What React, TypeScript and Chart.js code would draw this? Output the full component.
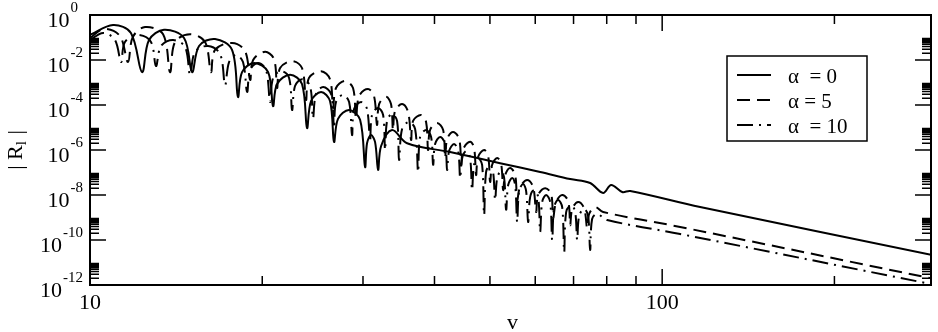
import React, { useEffect, useRef } from "react";
import { Chart, registerables } from "chart.js";

Chart.register(...registerables);

// ---------- data ----------
// alpha = 0 (solid)
const alpha0V = [10.0, 10.97, 11.79, 12.33, 12.68, 13.47, 14.6, 15.08, 15.51, 16.54, 17.71, 18.14, 18.44, 19.36, 20.48, 20.89, 21.23, 22.37, 23.47, 23.95, 24.34, 25.34, 26.27, 26.7, 27.13, 28.37, 29.65, 30.25, 30.49, 30.98, 31.49, 31.88, 32.27, 33.72, 35.83, 42.59, 52.1, 61.2, 69.06, 74.83, 78.85, 81.44, 85.13, 87.93, 116.5, 295];
const alpha0R = [0.13, 0.36, 0.16, 2.9e-3, 0.077, 0.22, 0.095, 2.9e-3, 0.042, 0.086, 0.028, 2.3e-4, 2.9e-3, 7.4e-3, 2.9e-3, 9.0e-5, 8.6e-4, 2.2e-3, 8.6e-4, 9.5e-6, 1.5e-4, 3.8e-4, 1.5e-4, 2.3e-6, 2.4e-5, 6.0e-5, 2.2e-5, 1.75e-7, 2.0e-6, 4.6e-6, 2.3e-6, 1.3e-7, 1.5e-6, 7.7e-6, 2.0e-6, 8.1e-7, 2.6e-7, 1.05e-7, 5.1e-8, 3.4e-8, 1.23e-8, 2.8e-8, 1.36e-8, 1.5e-8, 2.9e-9, 2.2e-11];

// alpha = 5 (dashed)
const alpha5V = [10.0, 10.58, 11.28, 11.65, 11.88, 12.48, 13.42, 13.8, 14.08, 14.96, 15.89, 16.27, 16.54, 17.71, 18.66, 19.05, 19.28, 20.23, 20.97, 21.23, 21.49, 22.55, 23.47, 23.85, 24.14, 25.34, 26.27, 26.59, 26.91, 27.91, 28.82, 29.17, 29.53, 30.61, 31.36, 31.74, 32.01, 32.92, 33.58, 33.85, 34.13, 35.11, 35.97, 36.41, 36.7, 37.9, 38.67, 38.98, 39.3, 40.42, 41.42, 41.75, 42.09, 43.1, 44.18, 44.54, 44.9, 46.16, 46.91, 47.29, 47.67, 48.84, 49.64, 50.04, 50.45, 51.48, 52.31, 52.73, 53.16, 54.24, 55.34, 55.79, 56.46, 58.08, 59.49, 60.21, 60.71, 62.44, 63.97, 64.48, 65.26, 66.87, 68.51, 69.06, 69.62, 71.3, 73.04, 73.94, 74.53, 76.35, 78.85, 107.5, 295];
const alpha5R = [0.095, 0.24, 0.117, 8.1e-3, 0.105, 0.29, 0.14, 2.9e-3, 0.063, 0.14, 0.063, 2.9e-3, 0.028, 0.057, 0.025, 1.3e-3, 0.01, 0.023, 0.011, 5.7e-4, 4.4e-3, 9.0e-3, 4.4e-3, 1.67e-4, 1.6e-3, 3.2e-3, 1.4e-3, 7.4e-5, 5.7e-4, 1.17e-3, 5.7e-4, 2.6e-5, 2.5e-4, 5.1e-4, 2.5e-4, 1.3e-5, 1.1e-4, 2.3e-4, 1.1e-4, 7.7e-6, 5.4e-5, 1.1e-4, 4.9e-5, 2.8e-6, 1.95e-5, 3.6e-5, 1.75e-5, 1.0e-6, 7.7e-6, 1.6e-5, 7.7e-6, 4.4e-7, 3.1e-6, 6.3e-6, 3.1e-6, 2.2e-7, 1.1e-6, 2.3e-6, 1.23e-6, 7.7e-8, 4.9e-7, 1.0e-6, 5.4e-7, 3.8e-8, 2.2e-7, 4.4e-7, 2.4e-7, 1.67e-8, 7.7e-8, 1.6e-7, 7.7e-8, 6.0e-9, 2.3e-8, 4.6e-8, 2.3e-8, 1.75e-9, 1.0e-8, 2.0e-8, 1.1e-8, 9.5e-10, 4.9e-9, 1.0e-8, 5.4e-9, 4.6e-10, 2.4e-9, 4.9e-9, 2.6e-9, 3.4e-10, 1.43e-9, 2.9e-9, 1.75e-9, 3.8e-10, 2.0e-12];

// alpha = 10 (dash-dot)
const alpha10V = [10.0, 10.54, 11.06, 11.33, 11.51, 12.13, 12.78, 13.04, 13.31, 13.97, 14.66, 14.96, 15.26, 16.08, 16.88, 17.22, 17.5, 18.0, 18.51, 18.82, 19.05, 19.67, 20.31, 20.64, 20.89, 21.58, 22.28, 22.55, 22.82, 23.47, 24.24, 24.53, 24.83, 25.55, 26.38, 26.7, 26.91, 27.68, 28.37, 28.71, 28.94, 29.77, 30.49, 30.86, 31.11, 31.88, 32.53, 32.79, 33.05, 33.72, 34.41, 34.69, 35.11, 36.11, 37.0, 37.45, 37.75, 38.67, 39.46, 39.78, 40.1, 40.92, 41.75, 42.09, 42.42, 43.28, 44.0, 44.36, 44.72, 45.44, 46.16, 46.53, 46.91, 47.67, 48.45, 48.84, 49.23, 50.04, 50.65, 51.06, 51.48, 52.31, 52.94, 53.37, 53.81, 54.68, 55.34, 55.79, 56.23, 57.14, 57.84, 58.31, 58.78, 59.73, 60.71, 61.2, 61.7, 62.69, 63.71, 64.23, 64.74, 65.8, 66.87, 67.41, 67.95, 69.34, 70.46, 71.03, 71.59, 73.04, 74.23, 74.83, 75.43, 76.98, 80.14, 107.5, 295];
const alpha10R = [0.077, 0.16, 0.077, 8.1e-3, 0.063, 0.13, 0.063, 5.4e-3, 0.042, 0.077, 0.038, 2.2e-3, 0.023, 0.042, 0.0185, 7.7e-4, 8.1e-3, 0.0167, 8.1e-3, 3.8e-4, 3.6e-3, 7.4e-3, 3.6e-3, 1.36e-4, 1.6e-3, 3.2e-3, 1.6e-3, 6.0e-5, 7.0e-4, 1.4e-3, 7.0e-4, 2.6e-5, 3.1e-4, 6.3e-4, 3.1e-4, 9.5e-6, 1.36e-4, 2.8e-4, 1.36e-4, 4.6e-6, 6.6e-5, 1.36e-4, 6.6e-5, 2.3e-6, 3.6e-5, 7.4e-5, 3.6e-5, 1.0e-6, 1.95e-5, 4.0e-5, 1.95e-5, 3.6e-7, 8.6e-6, 1.75e-5, 8.6e-6, 1.05e-7, 3.8e-6, 7.7e-6, 3.8e-6, 2.2e-7, 1.85e-6, 3.8e-6, 1.85e-6, 1.3e-7, 9.0e-7, 1.85e-6, 9.0e-7, 5.7e-8, 4.4e-7, 9.0e-7, 4.4e-7, 1.67e-8, 2.2e-7, 4.4e-7, 2.2e-7, 1.3e-9, 1.05e-7, 2.2e-7, 1.05e-7, 6.0e-9, 5.7e-8, 1.17e-7, 5.7e-8, 2.2e-9, 2.8e-8, 5.7e-8, 2.8e-8, 6.3e-10, 1.5e-8, 3.1e-8, 1.5e-8, 6.3e-10, 8.1e-9, 1.67e-8, 8.1e-9, 2.3e-10, 4.9e-9, 1.0e-8, 4.9e-9, 1.0e-10, 2.9e-9, 6.0e-9, 2.9e-9, 2.9e-11, 1.75e-9, 3.6e-9, 1.75e-9, 1.0e-10, 1.17e-9, 2.4e-9, 1.17e-9, 3.6e-11, 8.6e-10, 1.43e-9, 7.7e-10, 1.85e-10, 1.1e-12];

// axes / text
const xMin = 10;
const xMax = 295;
const yMin = 1e-12;
const yMax = 1;
const xMajorTicks = [10, 100];
const xMinorTicks = [20, 30, 40, 50, 60, 70, 80, 90, 200];
const xTickLabels = ["10", "100"];
const yMajorExponents = [0, -2, -4, -6, -8, -10, -12];
const yMinorMultipliers = [2, 3, 4, 5, 6, 7, 8, 9];
const seriesLabels = ["α  = 0", "α = 5", "α  = 10"];
const xTitle = "v";
const yTitleParts = ["| R", "l", " |"];

const FONT = '"Liberation Serif", "Times New Roman", Times, serif';
const dashStyles: number[][] = [[], [13, 7], [16, 6, 2, 6]];

function pts(vs: number[], rs: number[]) {
  return vs.map((v, i) => ({ x: v, y: rs[i] }));
}

const decorPlugin = {
  id: "decor",
  afterDraw(chart: any) {
    const { ctx, chartArea, scales } = chart;
    const { left, right, top, bottom } = chartArea;
    const xs = scales.x;
    const ys = scales.y;
    ctx.save();
    ctx.strokeStyle = "#000";
    ctx.fillStyle = "#000";
    ctx.setLineDash([]);

    // ticks
    const MAJ = 16;
    const MIN = 9;
    ctx.lineWidth = 1.5;
    ctx.beginPath();
    const seg = (x1: number, y1: number, x2: number, y2: number) => {
      ctx.moveTo(x1, y1);
      ctx.lineTo(x2, y2);
    };
    xMajorTicks.forEach((v) => {
      const p = xs.getPixelForValue(v);
      seg(p, bottom, p, bottom - MAJ);
      seg(p, top, p, top + MAJ);
    });
    xMinorTicks.forEach((v) => {
      const p = xs.getPixelForValue(v);
      seg(p, bottom, p, bottom - MIN);
      seg(p, top, p, top + MIN);
    });
    yMajorExponents.forEach((e) => {
      const p = ys.getPixelForValue(Math.pow(10, e));
      seg(left, p, left + MAJ, p);
      seg(right, p, right - MAJ, p);
      if (e < 0) {
        yMinorMultipliers.forEach((k) => {
          const q = ys.getPixelForValue(k * Math.pow(10, e));
          seg(left, q, left + MIN, q);
          seg(right, q, right - MIN, q);
        });
      }
    });
    ctx.stroke();

    // frame
    ctx.lineWidth = 2;
    ctx.strokeRect(left, top, right - left, bottom - top);

    // y tick labels 10^e
    const baseFont = `22px ${FONT}`;
    const expFont = `15px ${FONT}`;
    ctx.textBaseline = "middle";
    ctx.textAlign = "left";
    yMajorExponents.forEach((e) => {
      const p = ys.getPixelForValue(Math.pow(10, e));
      const expStr = String(e);
      ctx.font = expFont;
      const wExp = ctx.measureText(expStr).width;
      const wRef = ctx.measureText("-2").width;
      ctx.font = baseFont;
      const wBase = ctx.measureText("10").width;
      const xEnd = left - 8 - Math.max(wExp, wRef);
      ctx.fillText("10", xEnd - wBase, p + 6);
      ctx.font = expFont;
      ctx.fillText(expStr, xEnd + 1, p - 7);
    });

    // x tick labels
    ctx.font = baseFont;
    ctx.textAlign = "center";
    xMajorTicks.forEach((v, i) => {
      ctx.fillText(xTickLabels[i], xs.getPixelForValue(v), bottom + 18);
    });

    // x title
    ctx.fillText(xTitle, (left + right) / 2 + 2, bottom + 38);

    // y title |R_l|
    ctx.save();
    ctx.translate(16, (top + bottom) / 2);
    ctx.rotate(-Math.PI / 2);
    ctx.textAlign = "left";
    ctx.font = baseFont;
    const wA = ctx.measureText(yTitleParts[0]).width;
    const wBar = ctx.measureText(yTitleParts[2]).width;
    ctx.font = expFont;
    const wSub = ctx.measureText(yTitleParts[1]).width;
    const total = wA + wSub + 1 + wBar;
    let cx = -total / 2;
    ctx.font = baseFont;
    ctx.fillText(yTitleParts[0], cx, 0);
    cx += wA;
    ctx.font = expFont;
    ctx.fillText(yTitleParts[1], cx, 6);
    cx += wSub + 1;
    ctx.font = baseFont;
    ctx.fillText(yTitleParts[2], cx, 0);
    ctx.restore();

    // legend
    const lx = 727, ly = 56, lw = 140, lh = 85;
    ctx.fillStyle = "#fff";
    ctx.fillRect(lx, ly, lw, lh);
    ctx.fillStyle = "#000";
    ctx.lineWidth = 1.5;
    ctx.strokeRect(lx, ly, lw, lh);
    ctx.font = `21px ${FONT}`;
    ctx.textAlign = "left";
    ctx.textBaseline = "middle";
    seriesLabels.forEach((lab, i) => {
      const yy = ly + 19 + i * 25;
      ctx.lineWidth = 2;
      ctx.setLineDash(dashStyles[i]);
      ctx.beginPath();
      ctx.moveTo(lx + 10, yy);
      ctx.lineTo(lx + 44, yy);
      ctx.stroke();
      ctx.setLineDash([]);
      ctx.fillText(lab, lx + 61, yy + 2);
    });
    ctx.restore();
  },
};

export default function App() {
  const ref = useRef<HTMLCanvasElement | null>(null);
  useEffect(() => {
    if (!ref.current) return;
    const series = [
      { v: alpha0V, r: alpha0R },
      { v: alpha5V, r: alpha5R },
      { v: alpha10V, r: alpha10R },
    ];
    const chart = new Chart(ref.current, {
      type: "line",
      data: {
        datasets: series.map((s, i) => ({
          label: seriesLabels[i],
          data: pts(s.v, s.r),
          borderColor: "#000",
          borderWidth: 2,
          borderDash: dashStyles[i],
          pointRadius: 0,
          tension: 0.35,
          fill: false,
        })),
      },
      options: {
        responsive: false,
        animation: false,
        events: [],
        layout: { padding: { left: 90, right: 7, top: 15, bottom: 47 } },
        plugins: { legend: { display: false }, tooltip: { enabled: false } },
        scales: {
          x: { type: "logarithmic", min: xMin, max: xMax, display: false },
          y: { type: "logarithmic", min: yMin, max: yMax, display: false },
        },
      },
      plugins: [decorPlugin],
    } as any);
    return () => chart.destroy();
  }, []);
  return (
    <div style={{ position: "fixed", left: 0, top: 0, width: 938, height: 332, background: "#fff" }}>
      <canvas ref={ref} width={938} height={332} style={{ display: "block" }} />
    </div>
  );
}
